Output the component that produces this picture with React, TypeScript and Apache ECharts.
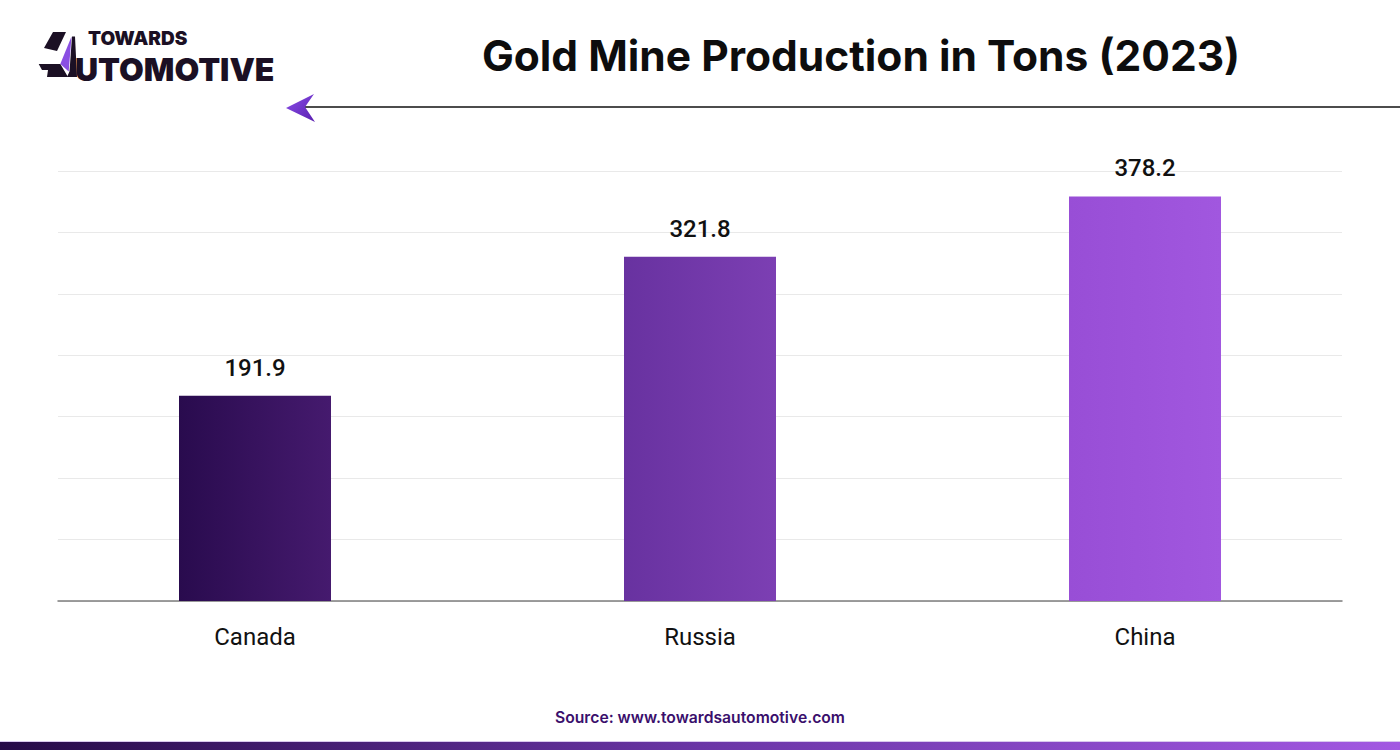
import React, { useEffect, useRef } from "react";
import * as echarts from "echarts";

const categories = ["Canada", "Russia", "China"];
const production = [191.9, 321.8, 378.2];
const axisMax = 402;
const gridCount = 7;

const barColors = [
  ["#290b4e", "#451a6e"],
  ["#6832a0", "#7c3fb3"],
  ["#984ed6", "#a157df"],
];

export default function App() {
  const ref = useRef<HTMLDivElement>(null);
  useEffect(() => {
    if (!ref.current) return;
    const chart = echarts.init(ref.current, null, { renderer: "svg" });
    const labelFont = "Roboto, 'Liberation Sans', Arial, sans-serif";
    const dark = "#1b1024";
    const option: any = {
      animation: false,
      backgroundColor: "#ffffff",
      grid: [
        { left: 32.5, right: 32.5, top: 171, bottom: 149 },
        { left: 58, right: 58, top: 171, bottom: 149 },
      ],
      xAxis: [
        {
          type: "category",
          gridIndex: 0,
          data: categories,
          axisLine: { show: false },
          axisTick: { show: false },
          axisLabel: {
            margin: 24,
            fontSize: 24,
            color: "#111111",
            fontFamily: labelFont,
          },
          splitLine: { show: false },
        },
        {
          type: "value",
          gridIndex: 1,
          min: 0,
          max: 1,
          axisLine: { show: true, lineStyle: { color: "#7d7d7d", width: 1.5 } },
          axisTick: { show: false },
          axisLabel: { show: false },
          splitLine: { show: false },
        },
      ],
      yAxis: [
        {
          type: "value",
          gridIndex: 0,
          min: 0,
          max: axisMax,
          interval: axisMax / gridCount,
          axisLine: { show: false },
          axisTick: { show: false },
          axisLabel: { show: false },
          splitLine: { show: false },
        },
        {
          type: "value",
          gridIndex: 1,
          min: 0,
          max: axisMax,
          interval: axisMax / gridCount,
          axisLine: { show: false },
          axisTick: { show: false },
          axisLabel: { show: false },
          splitLine: { show: true, lineStyle: { color: "#e9e9e9", width: 1 } },
        },
      ],
      series: [
        {
          type: "bar",
          xAxisIndex: 0,
          yAxisIndex: 0,
          barWidth: 152,
          data: production.map((v, i) => ({
            value: v,
            itemStyle: {
              color: new echarts.graphic.LinearGradient(0, 0, 1, 0, [
                { offset: 0, color: barColors[i][0] },
                { offset: 1, color: barColors[i][1] },
              ]),
            },
          })),
          label: {
            show: true,
            position: "top",
            distance: 16,
            fontSize: 24,
            fontWeight: 500,
            color: "#111111",
            fontFamily: labelFont,
          },
        },
      ],
      graphic: [
        // logo mark
        { type: "polygon", shape: { points: [[53, 32], [66, 32], [57, 51], [44, 48]] }, style: { fill: dark } },
        { type: "polygon", shape: { points: [[71.5, 36.5], [60.3, 64], [68.7, 71.4]] }, style: { fill: "#8a4fe3" } },
        { type: "polygon", shape: { points: [[72, 36.5], [75, 36.5], [77, 77], [67, 77], [69.5, 71.5]] }, style: { fill: dark } },
        { type: "polygon", shape: { points: [[38.7, 64], [60.3, 64], [68, 77], [47, 77], [48, 70], [42, 70]] }, style: { fill: dark } },
        {
          type: "text",
          style: {
            text: "TOWARDS",
            x: 88,
            y: 38.4,
            textVerticalAlign: "middle",
            fontSize: 19,
            lineHeight: 16,
            fontWeight: 900,
            fontFamily: "Inter, sans-serif",
            fill: dark,
          },
        },
        {
          type: "text",
          style: {
            text: "UTOMOTIVE",
            x: 75,
            y: 69.6,
            textVerticalAlign: "middle",
            fontSize: 32,
            lineHeight: 26,
            fontWeight: 900,
            fontFamily: "Inter, sans-serif",
            fill: dark,
          },
        },
        // title
        {
          type: "text",
          style: {
            text: "Gold Mine Production in Tons (2023)",
            x: 861,
            y: 55,
            textAlign: "center",
            textVerticalAlign: "middle",
            fontSize: 42.5,
            fontWeight: "bold",
            fontFamily: "Inter, sans-serif",
            fill: "#0d0d0d",
          },
        },
        // header line + arrow
        {
          type: "line",
          shape: { x1: 300, y1: 107, x2: 1400, y2: 107 },
          style: { stroke: "#111111", lineWidth: 1.5 },
        },
        {
          type: "polygon",
          shape: { points: [[286, 108], [314, 94], [305, 107], [315, 122]] },
          style: {
            fill: new echarts.graphic.LinearGradient(0, 0, 1, 1, [
              { offset: 0, color: "#8a4fe8" },
              { offset: 1, color: "#5a1fb0" },
            ]),
          },
        },
        // source
        {
          type: "text",
          style: {
            text: "Source: www.towardsautomotive.com",
            x: 700,
            y: 717,
            textAlign: "center",
            textVerticalAlign: "middle",
            fontSize: 15.7,
            fontWeight: 600,
            fontFamily: "Inter, sans-serif",
            fill: "#3a0f6c",
          },
        },
        // bottom band
        {
          type: "rect",
          shape: { x: 0, y: 741, width: 1400, height: 1 },
          style: { fill: "#d9c8ee" },
        },
        {
          type: "rect",
          shape: { x: 0, y: 742, width: 1400, height: 8 },
          style: {
            fill: new echarts.graphic.LinearGradient(0, 0, 1, 0, [
              { offset: 0, color: "#260a48" },
              { offset: 0.5, color: "#6a35a6" },
              { offset: 1, color: "#a258e2" },
            ]),
          },
        },
      ],
    };
    chart.setOption(option);
    return () => chart.dispose();
  }, []);
  return (
    <div
      ref={ref}
      style={{ position: "fixed", left: 0, top: 0, width: 1400, height: 750, background: "#fff" }}
    />
  );
}
